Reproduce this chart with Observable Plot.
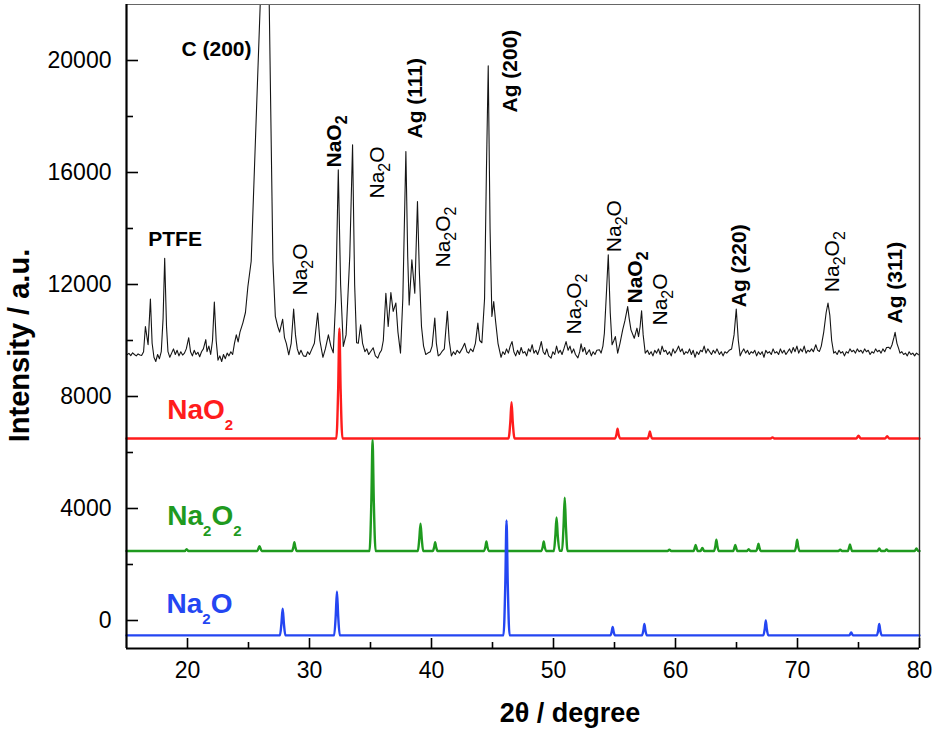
<!DOCTYPE html>
<html><head><meta charset="utf-8">
<script src="https://cdn.jsdelivr.net/npm/d3@7"></script>
<script src="https://cdn.jsdelivr.net/npm/@observablehq/plot@0.6"></script>
<style>body{margin:0;background:#fff}#chart{width:935px;height:731px}</style>
</head><body><div id="chart"></div>
<script>
// ---------- data ----------
const xMajor = [20, 30, 40, 50, 60, 70, 80];
const xMinor = [25, 35, 45, 55, 65, 75];
const yMajor = [0, 4000, 8000, 12000, 16000, 20000];
const yMinor = [2000, 6000, 10000, 14000, 18000];

// measured pattern (black)
const measured = [
[15.0,9480],[15.2,9540],[15.35,9460],[15.5,9560],[15.65,9500],[15.8,9450],[15.95,9520],[16.1,9480],[16.25,9470],[16.4,9600],
[16.55,10500],[16.65,10200],[16.77,9850],[16.96,11480],[17.1,9900],[17.25,9400],[17.4,9250],[17.55,9500],[17.7,9350],[17.85,9600],
[18.0,10800],[18.13,12940],[18.28,10500],[18.4,9600],[18.55,9400],[18.7,9550],[18.85,9700],[19.0,9500],[19.15,9650],[19.3,9450],
[19.45,9600],[19.6,9480],[19.75,9550],[19.9,9700],[20.1,10100],[20.25,9600],[20.4,9450],[20.55,9650],[20.7,9500],[20.85,9580],
[21.0,9420],[21.15,9600],[21.3,9700],[21.5,10030],[21.6,9600],[21.75,9800],[21.9,9500],[22.05,10000],[22.2,11370],[22.35,10000],
[22.5,9300],[22.65,9450],[22.8,9250],[22.95,9500],[23.1,9350],[23.25,9550],[23.4,9450],[23.55,9600],[23.7,9500],[23.85,9900],
[24.0,10200],[24.15,9950],[24.3,10300],[24.54,10630],[24.75,11000],[24.95,11930],[25.22,12830],[25.96,22000],[26.49,28500],
[26.7,22000],[27.0,12830],[27.2,10860],[27.4,10500],[27.55,10300],[27.8,10760],[27.95,10100],[28.1,9900],[28.3,9490],[28.5,9900],
[28.7,11120],[28.85,10200],[29.0,9700],[29.15,9500],[29.3,9650],[29.5,9450],[29.7,9430],[29.85,9600],[30.0,9500],[30.2,9700],
[30.4,9900],[30.67,10980],[30.85,10000],[31.1,9400],[31.3,9700],[31.55,10200],[31.75,9800],[31.95,9560],[32.15,11500],[32.36,16100],
[32.55,12000],[32.77,9790],[33.0,10200],[33.3,13000],[33.53,16990],[33.7,12000],[33.86,9920],[34.0,9900],[34.19,10560],[34.35,9900],
[34.54,9600],[34.7,9700],[34.85,9500],[35.0,9600],[35.22,9740],[35.4,9450],[35.6,9370],[35.75,9550],[35.9,9650],[36.05,10000],
[36.26,11690],[36.45,10500],[36.67,11710],[36.86,11040],[37.08,11340],[37.25,10300],[37.46,9550],[37.65,11500],[37.9,16750],[38.05,13000],
[38.17,11270],[38.39,12880],[38.63,11690],[38.85,14960],[39.0,12500],[39.18,10500],[39.35,9800],[39.53,9500],[39.7,9550],[39.9,9600],
[40.05,9800],[40.27,10800],[40.4,9900],[40.55,9450],[40.7,9500],[40.85,9600],[41.05,9700],[41.3,11040],[41.45,10000],[41.63,9450],
[41.8,9600],[41.95,9500],[42.1,9650],[42.3,9550],[42.5,9700],[42.72,9900],[42.9,9600],[43.05,9550],[43.2,9700],[43.4,9600],
[43.6,9900],[43.8,10620],[43.95,10000],[44.13,9920],[44.35,11500],[44.5,16000],[44.65,19810],[44.8,14000],[44.95,10860],[45.1,11390],
[45.25,10700],[45.45,9900],[45.7,9400],[45.85,9600],[46.0,9500],[46.15,9700],[46.3,9550],[46.45,9800],[46.6,9960],[46.75,9600],
[46.9,9450],[47.05,9650],[47.2,9500],[47.35,9750],[47.5,9550],[47.65,9600],[47.8,9450],[47.95,9700],[48.1,9600],[48.25,9850],
[48.4,9550],[48.55,9650],[48.7,9500],[48.85,9700],[49.0,9960],[49.15,9600],[49.3,9500],[49.45,9700],[49.6,9450],[49.8,9370],
[49.95,9600],[50.1,9500],[50.25,9800],[50.4,9550],[50.55,9650],[50.7,9500],[50.85,9700],[51.03,9960],[51.2,9650],[51.35,9800],
[51.5,9550],[51.65,9700],[51.8,9500],[52.0,9380],[52.15,9600],[52.26,9880],[52.4,9600],[52.55,9750],[52.7,9500],[52.94,9670],
[53.1,9450],[53.25,9600],[53.4,9500],[53.55,9650],[53.76,9670],[53.9,9550],[54.05,9800],[54.17,10260],[54.35,11800],[54.49,13060],
[54.65,11000],[54.8,9850],[54.95,10000],[55.07,10140],[55.26,9550],[55.45,9900],[55.67,10380],[55.85,10700],[56.08,11210],[56.2,10800],
[56.35,10380],[56.62,10080],[56.84,10440],[56.97,10140],[57.1,10500],[57.22,11060],[57.35,10200],[57.52,9550],[57.7,9650],[57.85,9500],
[58.0,9600],[58.15,9450],[58.3,9650],[58.45,9550],[58.6,9700],[58.75,9500],[58.9,9800],[59.05,9600],[59.2,9650],[59.35,9500],
[59.5,9600],[59.65,9450],[59.8,9700],[59.95,9550],[60.1,9650],[60.25,9800],[60.4,9600],[60.55,9700],[60.7,9500],[60.85,9600],
[61.0,9550],[61.15,9700],[61.3,9500],[61.45,9650],[61.6,9400],[61.75,9600],[61.9,9500],[62.05,9650],[62.2,9600],[62.35,9800],
[62.5,9550],[62.65,9700],[62.8,9600],[62.95,9500],[63.1,9650],[63.25,9550],[63.4,9700],[63.6,9500],[63.75,9600],[63.9,9450],
[64.05,9600],[64.2,9550],[64.4,9650],[64.6,9700],[64.8,10200],[64.98,11120],[65.15,10000],[65.3,9450],[65.45,9600],[65.6,9700],
[65.75,9550],[65.9,9650],[66.05,9500],[66.2,9600],[66.35,9550],[66.5,9650],[66.65,9450],[66.8,9600],[66.95,9500],[67.1,9600],
[67.25,9400],[67.4,9650],[67.55,9550],[67.7,9600],[67.85,9500],[68.0,9700],[68.15,9550],[68.3,9600],[68.45,9500],[68.6,9700],
[68.75,9550],[68.9,9650],[69.05,9500],[69.2,9600],[69.35,9700],[69.5,9550],[69.65,9750],[69.8,9600],[69.95,9800],[70.1,9550],
[70.25,9700],[70.4,9600],[70.55,9800],[70.7,9550],[70.85,9650],[71.0,9600],[71.15,9700],[71.3,9600],[71.5,9850],[71.65,9650],
[71.8,9610],[71.95,9800],[72.15,10300],[72.35,11000],[72.5,11340],[72.65,10900],[72.8,10000],[72.97,9550],[73.1,9600],[73.25,9500],
[73.4,9650],[73.55,9550],[73.7,9600],[73.85,9450],[74.0,9600],[74.15,9550],[74.3,9700],[74.45,9600],[74.6,9650],[74.75,9550],
[74.9,9700],[75.05,9600],[75.2,9650],[75.35,9550],[75.5,9700],[75.65,9600],[75.8,9650],[75.95,9500],[76.1,9600],[76.25,9550],
[76.4,9700],[76.55,9600],[76.7,9650],[76.85,9550],[77.0,9700],[77.15,9600],[77.3,9750],[77.47,9760],[77.6,9700],[77.75,9850],
[77.9,10100],[78.0,10290],[78.15,9900],[78.3,9700],[78.4,9550],[78.55,9600],[78.7,9500],[78.85,9550],[79.0,9450],[79.15,9600],
[79.3,9500],[79.45,9550],[79.6,9450],[79.75,9550],[79.9,9500],[80.0,9480]
];

// reference pattern NaO2 (red)
const naO2 = [
[15,6500],[32.2,6500],[32.35,8270],[32.45,10430],[32.55,8270],[32.7,6500],
[46.31,6500],[46.46,7085],[46.56,7800],[46.66,7085],[46.81,6500],
[55.05,6500],[55.17,6660],[55.25,6850],[55.33,6660],[55.45,6500],
[57.72,6500],[57.82,6610],[57.9,6750],[57.98,6610],[58.08,6500],
[67.8,6500],[67.95,6540],[68.1,6500],
[74.82,6500],[75.0,6600],[75.18,6500],
[77.18,6500],[77.35,6580],[77.52,6500],[80,6500]
];

// reference pattern Na2O2 (green)
const na2O2 = [
[15,2480],[19.78,2480],[19.93,2550],[20.08,2480],
[25.72,2480],[25.9,2650],[26.08,2480],
[28.56,2480],[28.68,2620],[28.76,2800],[28.84,2620],[28.96,2480],
[34.92,2480],[35.07,4270],[35.17,6450],[35.27,4270],[35.42,2480],
[38.88,2480],[39.0,2920],[39.1,3460],[39.2,2920],[39.32,2480],
[40.1,2480],[40.22,2620],[40.3,2800],[40.38,2620],[40.5,2480],
[44.3,2480],[44.42,2630],[44.5,2820],[44.58,2630],[44.7,2480],
[49.0,2480],[49.12,2630],[49.2,2820],[49.28,2630],[49.4,2480],
[50.03,2480],[50.15,3020],[50.25,3680],[50.35,3020],[50.5,2490],
[50.7,2490],[50.82,3340],[50.92,4390],[51.02,3340],[51.15,2480],
[59.35,2480],[59.5,2530],[59.65,2480],
[61.47,2480],[61.57,2580],[61.65,2700],[61.73,2580],[61.83,2480],
[62.05,2480],[62.2,2590],[62.35,2480],
[63.15,2480],[63.27,2660],[63.35,2890],[63.43,2660],[63.55,2480],
[64.72,2480],[64.82,2580],[64.9,2700],[64.98,2580],[65.08,2480],
[65.85,2480],[66.0,2550],[66.15,2480],
[66.62,2480],[66.72,2600],[66.8,2740],[66.88,2600],[66.98,2480],
[69.77,2480],[69.89,2660],[69.97,2890],[70.05,2660],[70.17,2480],
[73.35,2480],[73.5,2530],[73.65,2480],
[74.12,2480],[74.22,2590],[74.3,2720],[74.38,2590],[74.48,2480],
[76.55,2480],[76.7,2570],[76.85,2480],
[77.15,2480],[77.3,2540],[77.45,2480],
[79.6,2480],[79.75,2570],[79.9,2480],[80,2480]
];

// reference pattern Na2O (blue)
const na2O = [
[15,-530],[27.58,-530],[27.7,-100],[27.8,420],[27.9,-100],[28.02,-530],
[32.02,-530],[32.15,170],[32.25,1040],[32.35,170],[32.48,-530],
[45.9,-530],[46.05,1320],[46.15,3570],[46.25,1320],[46.4,-530],
[54.67,-530],[54.77,-400],[54.85,-230],[54.93,-400],[55.03,-530],
[57.25,-530],[57.37,-350],[57.45,-120],[57.53,-350],[57.65,-530],
[67.2,-530],[67.32,-290],[67.4,0],[67.48,-290],[67.6,-530],
[74.25,-530],[74.4,-430],[74.55,-530],
[76.5,-530],[76.62,-350],[76.7,-120],[76.78,-350],[76.9,-530],[80,-530]
];

// peak annotations ("_" marks a subscript digit)
const annoText = ["Na_2O","NaO_2","Na_2O","Ag (111)","Na_2O_2","Ag (200)","Na_2O_2","Na_2O","NaO_2","Na_2O","Ag (220)","Na_2O_2","Ag (311)"];
const annoX    = [29.26, 31.99, 35.55, 38.69, 41.0, 46.48, 51.72, 54.94, 56.72, 58.77, 65.19, 72.84, 78.03];
const annoY    = [11607, 16179, 15071, 17214, 12607, 18143, 10214, 13154, 11321, 10536, 11189, 11725, 10607];
const annoBold = [false, true, false, true, false, true, false, false, true, false, true, false, true];

const hLabelText = ["C (200)", "PTFE"];
const hLabelX = [22.38, 18.98];
const hLabelY = [20390, 13625];

const seriesName  = ["NaO_2", "Na_2O_2", "Na_2O"];
const seriesColor = ["#ff1c1c", "#1f9a1f", "#2446f2"];
const seriesLabX  = [18.34, 18.34, 18.28];
const seriesLabY  = [7204, 3393, 275];

// ---------- chart ----------
const W = 935, H = 731, mL = 126, mR = 16, mT = 4, mB = 83;
const innerW = W - mL - mR, innerH = H - mT - mB;

const anno = annoText.map((t, i) => ({t, x: annoX[i], y: annoY[i], b: annoBold[i]}));
const hLab = hLabelText.map((t, i) => ({t, x: hLabelX[i], y: hLabelY[i]}));
const legend = seriesName.map((t, i) => ({t, x: seriesLabX[i], y: seriesLabY[i], c: seriesColor[i]}));
const px = d => d[0], py = d => d[1];

const chart = Plot.plot({
  width: W, height: H,
  marginLeft: mL, marginRight: mR, marginTop: mT, marginBottom: mB,
  style: {fontFamily: "'Liberation Sans', Arial, sans-serif", background: "#fff", color: "#000", overflow: "visible"},
  x: {domain: [15, 80], label: null, axis: null},
  y: {domain: [-1000, 22000], label: null, axis: null},
  marks: [
    Plot.line(measured, {x: px, y: py, stroke: "#151515", strokeWidth: 1.1, clip: true}),
    Plot.line(naO2, {x: px, y: py, stroke: seriesColor[0], strokeWidth: 2.4, curve: "monotone-x"}),
    Plot.line(na2O2, {x: px, y: py, stroke: seriesColor[1], strokeWidth: 2.4, curve: "monotone-x"}),
    Plot.line(na2O, {x: px, y: py, stroke: seriesColor[2], strokeWidth: 2.4, curve: "monotone-x"}),
    // frame
    Plot.ruleY([22000], {stroke: "#666", strokeWidth: 1.2}),
    Plot.ruleX([80], {stroke: "#333", strokeWidth: 1.4}),
    Plot.ruleX([15], {stroke: "#000", strokeWidth: 2.2}),
    Plot.ruleY([-1000], {stroke: "#000", strokeWidth: 2.2}),
    // inward ticks
    Plot.tickY(yMajor, {y: d => d, insetRight: innerW - 12, stroke: "#000", strokeWidth: 1.6}),
    Plot.tickY(yMinor, {y: d => d, insetRight: innerW - 7, stroke: "#000", strokeWidth: 1.6}),
    Plot.tickX(xMajor, {x: d => d, insetTop: innerH - 10, stroke: "#000", strokeWidth: 1.6}),
    Plot.tickX(xMinor, {x: d => d, insetTop: innerH - 6, stroke: "#000", strokeWidth: 1.6}),
    // tick labels
    Plot.axisY(yMajor, {tickSize: 0, tickPadding: 15, fontSize: 23, tickFormat: d3.format("d"), label: null}),
    Plot.axisX(xMajor, {tickSize: 0, tickPadding: 13, fontSize: 23, tickFormat: d3.format("d"), label: null}),
    // axis titles
    Plot.text(["Intensity / a.u."], {frameAnchor: "left", textAnchor: "middle", lineAnchor: "middle", dx: -107, dy: 19, rotate: -90, fontSize: 29, fontWeight: "bold", fill: "#000"}),
    Plot.text(["2θ / degree"], {frameAnchor: "bottom", textAnchor: "middle", lineAnchor: "middle", dx: 47, dy: 65, fontSize: 27, fontWeight: "bold", fill: "#000"}),
    // peak labels
    Plot.text(hLab, {x: "x", y: "y", text: "t", fontSize: 21, fontWeight: "bold", fill: "#000"}),
    Plot.text(anno.filter(d => d.b), {x: "x", y: "y", text: "t", rotate: -90, textAnchor: "start", fontSize: 21, fontWeight: "bold", fill: "#000"}),
    Plot.text(anno.filter(d => !d.b), {x: "x", y: "y", text: "t", rotate: -90, textAnchor: "start", fontSize: 21, fill: "#000"}),
    // series labels
    Plot.text(legend, {x: "x", y: "y", text: "t", fill: "c", textAnchor: "start", lineAnchor: "bottom", fontSize: 28, fontWeight: "bold"})
  ]
});

document.getElementById("chart").appendChild(chart);

// turn "_2" into a subscript tspan
const NS = "http://www.w3.org/2000/svg";
chart.querySelectorAll("text, tspan").forEach(el => {
  if (el.children.length) return;
  const s = el.textContent;
  if (!s.includes("_")) return;
  const fs = parseFloat(getComputedStyle(el).fontSize) || 21;
  const big = fs >= 26;
  const subSize = big ? 15 : Math.round(fs * 0.75);
  const shift = big ? 11 : Math.round(fs * 0.28);
  el.textContent = "";
  const parts = s.split(/_(\d)/);
  let down = false;
  parts.forEach((p, i) => {
    if (p === "") return;
    const t = document.createElementNS(NS, "tspan");
    t.textContent = p;
    if (i % 2) { t.setAttribute("font-size", subSize); t.setAttribute("dy", shift); down = true; }
    else if (down) { t.setAttribute("dy", -shift); down = false; }
    el.appendChild(t);
  });
});
</script>
</body></html>
